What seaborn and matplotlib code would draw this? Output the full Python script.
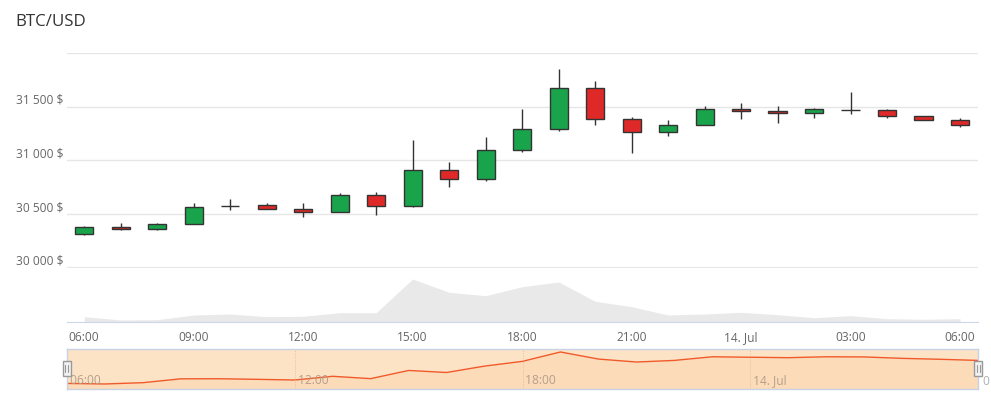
import pandas as pd
import matplotlib.pyplot as plt
import matplotlib.transforms as mtransforms
from matplotlib.patches import Rectangle
import seaborn as sns

# hourly candles, 13 Jul 06:00 -> 14 Jul 06:00
times = pd.date_range("2021-07-13 06:00", periods=25, freq="h")
opens = [30314, 30380, 30357, 30408, 30573, 30580, 30549, 30521, 30674, 30577, 30915, 30831, 31094,
         31291, 31677, 31385, 31263, 31329, 31479, 31460, 31442, 31473, 31470, 31414, 31376]
closes = [30380, 30357, 30411, 30570, 30573, 30549, 30521, 30674, 30577, 30915, 30831, 31094, 31291,
          31677, 31385, 31263, 31329, 31479, 31460, 31442, 31479, 31473, 31414, 31376, 31329]
highs = [30392, 30420, 30420, 30599, 30636, 30599, 30599, 30693, 30702, 31191, 30984, 31219, 31482,
         31849, 31745, 31404, 31379, 31510, 31538, 31510, 31492, 31642, 31479, 31414, 31398]
lows = [30301, 30355, 30348, 30408, 30536, 30549, 30470, 30521, 30489, 30564, 30752, 30808, 31081,
        31278, 31335, 31071, 31231, 31329, 31391, 31353, 31400, 31429, 31400, 31376, 31316]
volumes = [53, 20, 23, 70, 80, 53, 57, 93, 93, 430, 297, 263, 353,
           400, 207, 153, 70, 80, 97, 73, 43, 63, 33, 27, 33]

price_ticks = [30000, 30500, 31000, 31500, 32000]
price_labels = ["30 000 $", "30 500 $", "31 000 $", "31 500 $", ""]
time_ticks = ["2021-07-13 06:00", "2021-07-13 09:00", "2021-07-13 12:00", "2021-07-13 15:00",
              "2021-07-13 18:00", "2021-07-13 21:00", "2021-07-14 00:00", "2021-07-14 03:00",
              "2021-07-14 06:00"]
time_labels = ["06:00", "09:00", "12:00", "15:00", "18:00", "21:00", "14. Jul", "03:00", "06:00"]
nav_ticks = ["2021-07-13 06:00", "2021-07-13 12:00", "2021-07-13 18:00", "2021-07-14 00:00"]
nav_labels = ["06:00", "12:00", "18:00", "14. Jul"]

sns.set_style("white")
plt.rcParams["font.family"] = ["Open Sans", "DejaVu Sans"]

df = pd.DataFrame({"time": times, "open": opens, "close": closes,
                   "high": highs, "low": lows, "volume": volumes})
df["up"] = df["close"] >= df["open"]

W, H = 991, 397
fig = plt.figure(figsize=(W / 100, H / 100), dpi=100)

def px_axes(x0, y0, x1, y1):
    return fig.add_axes([x0 / W, 1 - y1 / H, (x1 - x0) / W, (y1 - y0) / H])

hour = pd.Timedelta(hours=1)
xmin = times[0] - hour * 0.47
xmax = times[-1] + hour * 0.49

# ---- price panel
ax = px_axes(67, 53.2, 978, 267.7)
ax.set_xlim(xmin, xmax)
ax.set_ylim(30000, 32000)
for v in price_ticks:
    ax.axhline(v, color="#e6e6e6", lw=1.5 if v == 30000 else 1, zorder=0)
ax.vlines(df["time"], df["low"], df["high"], color="#333333", lw=1, zorder=1)
colors = ["#19a34a" if u else "#df2828" for u in df["up"]]
bottoms = [min(o, c) for o, c in zip(opens, closes)]
heights = [abs(c - o) for o, c in zip(opens, closes)]
ax.bar(df["time"], heights, bottom=bottoms, width=hour * 0.5, color=colors,
       edgecolor="#333333", linewidth=1, zorder=2)
ax.set_yticks([])
ax.set_xticks([])
sns.despine(ax=ax, left=True, bottom=True)
lab_tr = mtransforms.blended_transform_factory(fig.transFigure, ax.transData)
off = mtransforms.ScaledTranslation(0, 3 / 100, fig.dpi_scale_trans)
for v, s in zip(price_ticks, price_labels):
    fig.text(63 / W, v, s, transform=lab_tr + off, ha="right", va="baseline",
             fontsize=8.6, color="#666666")

# ---- volume panel
axv = px_axes(67, 268, 978, 322)
axv.set_xlim(xmin, xmax)
axv.set_ylim(0, 540)
axv.fill_between(df["time"], df["volume"], color="#e9e9e9", lw=0)
sns.despine(ax=axv, left=True, top=True, right=True)
axv.spines["bottom"].set_color("#ccd6eb")
axv.set_yticks([])
axv.set_xticks(pd.to_datetime(time_ticks))
axv.set_xticklabels([])
axv.tick_params(axis="x", length=10, width=1, color="#ccd6eb")
tick_tr = mtransforms.blended_transform_factory(axv.transData, fig.transFigure)
for t, s in zip(pd.to_datetime(time_ticks), time_labels):
    axv.text(t, 1 - 341 / H, s, transform=tick_tr, ha="center", va="baseline",
             fontsize=8.6, color="#666666", clip_on=False)

# ---- navigator
axn = px_axes(67, 349, 978, 389)
axn.set_xlim(times[0], times[-1])
axn.set_ylim(30150, 31800)
axn.set_facecolor("#fde3c6")
axn.fill_between(df["time"], df["close"], 30150, color="#fbd2aa", alpha=0.45, lw=0)
sns.lineplot(data=df, x="time", y="close", ax=axn, color="#f05a2a", lw=1)
for t in pd.to_datetime(nav_ticks[1:]):
    axn.axvline(t, color="#eab58a", lw=0.6, ls=":")
for t, s in zip(pd.to_datetime(nav_ticks), nav_labels):
    axn.text(t, 30230, " " + s, ha="left", va="bottom", fontsize=8.6,
             color="#b59f8b", clip_on=False)
axn.set_xticks([])
axn.set_yticks([])
axn.set_xlabel("")
axn.set_ylabel("")
for sp in axn.spines.values():
    sp.set_color("#c8d2e4")
    sp.set_linewidth(1)
fig.text(982 / W, 1 - 385 / H, "0", ha="left", va="baseline", fontsize=8.6, color="#b0b0b0")

for hx in (66.5, 978.3):
    fig.patches.append(Rectangle(((hx - 4) / W, 1 - 376 / H), 8 / W, 15 / H,
                                 transform=fig.transFigure, facecolor="#f2f2f2",
                                 edgecolor="#999999", lw=1))
    for dx in (-1.5, 1.5):
        fig.lines.append(plt.Line2D([(hx + dx) / W] * 2, [1 - 372 / H, 1 - 365 / H],
                                    transform=fig.transFigure, color="#999999", lw=0.8))

fig.text(15 / W, 1 - 26 / H, "BTC/USD", ha="left", va="baseline", fontsize=12.2,
         color="#333333")

fig.savefig("out.png", dpi=100)
